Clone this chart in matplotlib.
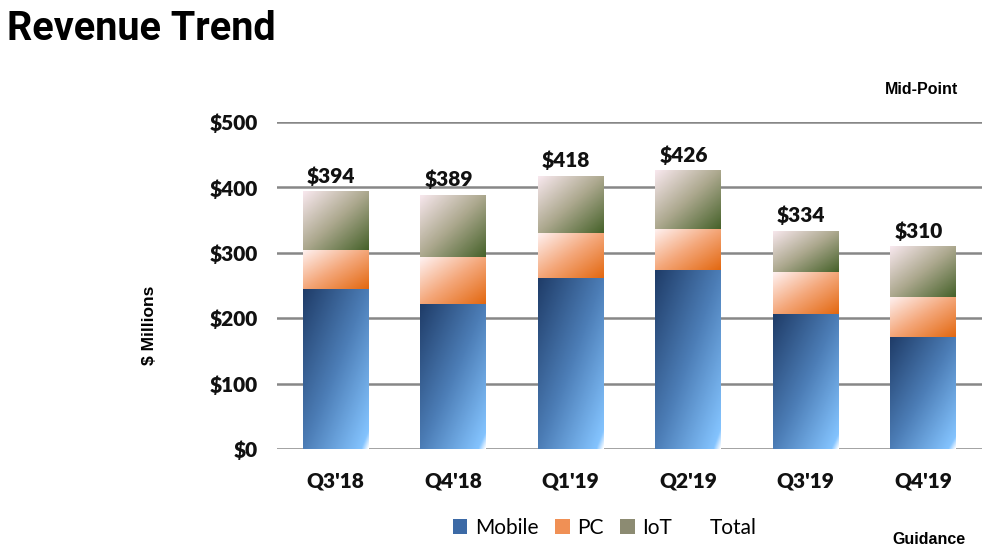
import numpy as np
import matplotlib
matplotlib.use("Agg")
import matplotlib.pyplot as plt
from matplotlib.colors import LinearSegmentedColormap
from matplotlib.patches import Patch

quarters = ["Q3'18", "Q4'18", "Q1'19", "Q2'19", "Q3'19", "Q4'19"]
mobile = [245, 222, 262, 274, 206, 171]
pc = [60, 71, 69, 63, 64, 62]
iot = [89, 96, 87, 89, 64, 77]
totals = [394, 389, 418, 426, 334, 310]
yticks = [0, 100, 200, 300, 400, 500]

# diagonal gradients, top-left -> bottom-right
cmaps = {
    "Mobile": LinearSegmentedColormap.from_list(
        "mob", [(0, "#1f3c68"), (0.5, "#4c7db6"), (0.95, "#84c4ff"), (1.0, "#ffffff")]),
    "PC": LinearSegmentedColormap.from_list(
        "pc", [(0, "#fff2f2"), (0.5, "#f4a77a"), (1.0, "#e36810")]),
    "IoT": LinearSegmentedColormap.from_list(
        "iot", [(0, "#f8e8ee"), (0.5, "#aca88e"), (1.0, "#46622a")]),
}
legend_cols = {"Mobile": "#3c6aa6", "PC": "#f09055", "IoT": "#8c8b72"}

body = ["Lato", "DejaVu Sans"]
head = ["Liberation Sans", "DejaVu Sans"]

fig = plt.figure(figsize=(10.02, 5.54), dpi=100)
ax = fig.add_axes([277 / 1002, 105 / 554, 705 / 1002, 327 / 554])

x = np.arange(len(quarters))
width = 0.56

u, v = np.meshgrid(np.linspace(0, 1, 60), np.linspace(0, 1, 120))
grad = (u + v) / 2  # row 0 is top with origin='upper'

bottom = np.zeros(len(quarters))
for name, vals in [("Mobile", mobile), ("PC", pc), ("IoT", iot)]:
    bars = ax.bar(x, vals, width, bottom=bottom, color="none", edgecolor="none", zorder=3)
    for b in bars:
        x0, y0 = b.get_x(), b.get_y()
        im = ax.imshow(grad, cmap=cmaps[name], vmin=0, vmax=1, origin="upper",
                       extent=[x0, x0 + b.get_width(), y0, y0 + b.get_height()],
                       aspect="auto", zorder=3, interpolation="bilinear")
        im.set_clip_path(b)
    bottom += np.array(vals)

for xi, t in zip(x, totals):
    ax.annotate(f"${t}", (xi - 0.04, t), xytext=(0, 4), textcoords="offset points",
                ha="center", va="bottom", fontsize=15, fontweight="heavy",
                family=body, color="#111111")

ax.set_xlim(-0.5, len(quarters) - 0.5)
ax.set_ylim(0, 500)
ax.set_yticks(yticks)
ax.set_yticklabels([f"${t}" for t in yticks])
ax.set_xticks(x)
ax.set_xticklabels(quarters)
ax.grid(axis="y", color="#878787", linewidth=1.8, zorder=0)
ax.set_axisbelow(True)
for s in ax.spines.values():
    s.set_visible(False)
ax.tick_params(axis="both", length=0, labelsize=15, colors="#111111")
ax.tick_params(axis="y", pad=14)
ax.tick_params(axis="x", pad=16)
for lab in ax.get_xticklabels() + ax.get_yticklabels():
    lab.set_fontweight("heavy")
    lab.set_family(body)

fig.text(150 / 1002, 1 - 325 / 554, "$ Millions", rotation=90, ha="center", va="center",
         fontsize=12.5, fontweight="bold", family=head)
fig.text(7 / 1002, 1 - 40 / 554, "Revenue Trend", ha="left", va="baseline",
         fontsize=28.5, fontweight="bold", family=["Roboto", "Liberation Sans"])
fig.text(922 / 1002, 1 - 89 / 554, "Mid-Point", ha="center", va="center",
         fontsize=11.5, fontweight="bold", family=head)
fig.text(929 / 1002, 1 - 539 / 554, "Guidance", ha="center", va="center",
         fontsize=11.5, fontweight="bold", family=head)

handles = [Patch(facecolor=legend_cols[k], label=k) for k in ["Mobile", "PC", "IoT"]]
handles.append(Patch(facecolor="none", edgecolor="none", label="Total"))
fig.legend(handles=handles, loc="center", bbox_to_anchor=(605 / 1002, 1 - 528 / 554),
           ncol=4, frameon=False, handlelength=0.7, handleheight=0.7,
           handletextpad=0.35, columnspacing=0.8,
           prop={"family": body, "size": 15})

fig.savefig("out.png", dpi=100)
